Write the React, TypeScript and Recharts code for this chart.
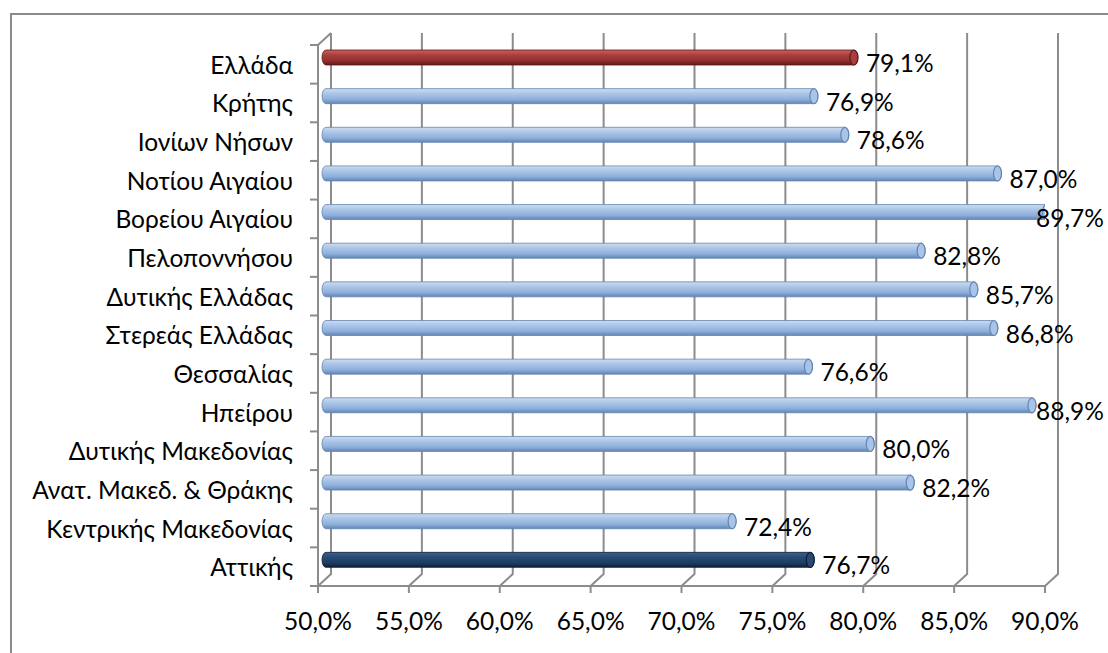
import { BarChart, Bar, XAxis, YAxis, CartesianGrid, LabelList } from "recharts";

const regions = [
  "Ελλάδα",
  "Κρήτης",
  "Ιονίων Νήσων",
  "Νοτίου Αιγαίου",
  "Βορείου Αιγαίου",
  "Πελοποννήσου",
  "Δυτικής Ελλάδας",
  "Στερεάς Ελλάδας",
  "Θεσσαλίας",
  "Ηπείρου",
  "Δυτικής Μακεδονίας",
  "Ανατ. Μακεδ. & Θράκης",
  "Κεντρικής Μακεδονίας",
  "Αττικής",
];
const shares = [79.1, 76.9, 78.6, 87.0, 89.7, 82.8, 85.7, 86.8, 76.6, 88.9, 80.0, 82.2, 72.4, 76.7];
const xTicks = [50, 55, 60, 65, 70, 75, 80, 85, 90];

const data = regions.map((name, i) => ({ name, value: shares[i] }));

const W = 1108;
const H = 653;
const TOP = 45;
const BOTTOM = 586;
const LEFT = 318;
const DEPTH_X = 13;
const DEPTH_Y = 12;
const GRID = "#8c8c8c";
const FONT = "Lato, 'Noto Sans', sans-serif";
const FS = 24.5;
const band = (BOTTOM - TOP) / regions.length;

const palettes: Record<string, string[]> = {
  blue: ["#cddcf0", "#a9c4e6", "#8fb0dc", "#6385b2"],
  red: ["#c8625e", "#a83f3c", "#93302e", "#5e1a19"],
  navy: ["#3c5f8a", "#264a74", "#1e3d62", "#0f2036"],
};
const paletteFor = (name: string) =>
  name === "Ελλάδα" ? "red" : name === "Αττικής" ? "navy" : "blue";

const fmt = (v: number) => v.toFixed(1).replace(".", ",") + "%";

function Cylinder(props: any) {
  const { x, y, width, height, payload } = props;
  const key = paletteFor(payload.name);
  const c = palettes[key];
  const x0 = x + 4;
  const x1 = x + width + 11;
  const top = y - DEPTH_Y / 2 - 1;
  const ry = height / 2;
  return (
    <g>
      <rect
        x={x0}
        y={top}
        width={x1 - x0}
        height={height}
        rx={4}
        ry={ry}
        fill={`url(#grad-${key})`}
        stroke={c[3]}
        strokeWidth={0.8}
      />
      <ellipse cx={x1 - 4} cy={top + ry} rx={4} ry={ry} fill={c[1]} stroke={c[3]} strokeWidth={1.2} />
    </g>
  );
}

function CategoryTick(props: any) {
  const { y, payload, index } = props;
  return (
    <g>
      <line x1={LEFT - 8} x2={LEFT} y1={y - band / 2} y2={y - band / 2} stroke={GRID} strokeWidth={2} />
      {index === regions.length - 1 && (
        <line x1={LEFT - 8} x2={LEFT} y1={y + band / 2} y2={y + band / 2} stroke={GRID} strokeWidth={2} />
      )}
      <text x={LEFT - 25} y={y} textAnchor="end" dominantBaseline="central" fontSize={FS} fill="#000" fontFamily={FONT}>
        {payload.value}
      </text>
    </g>
  );
}

function ValueTick(props: any) {
  const { x, payload } = props;
  return (
    <text x={x} y={630} textAnchor="middle" fontSize={FS} fill="#000" fontFamily={FONT}>
      {fmt(payload.value)}
    </text>
  );
}

function ValueLabel(props: any) {
  const { x, y, width, height, value } = props;
  const end = x + width + 11;
  const tx = Math.min(end + 8, W - 72);
  return (
    <text x={tx} y={y + height / 2 - 2} dominantBaseline="central" fontSize={FS} fill="#000" fontFamily={FONT}>
      {fmt(value)}
    </text>
  );
}

function GridLine(props: any) {
  const { x1, y1, y2, index } = props;
  const bx = x1 + DEPTH_X;
  return (
    <g key={`g-${index}`}>
      <polyline
        points={`${x1},${y2} ${bx},${y2 - DEPTH_Y} ${bx},${y1 - DEPTH_Y}`}
        fill="none"
        stroke={GRID}
        strokeWidth={2}
      />
      {index === 0 && <line x1={x1} y1={y1} x2={bx} y2={y1 - DEPTH_Y} stroke={GRID} strokeWidth={2} />}
    </g>
  );
}

export default function App() {
  return (
    <div style={{ position: "absolute", left: 0, top: 0, width: W, height: H, background: "#fff" }}>
      <div
        style={{
          position: "absolute",
          left: 10,
          top: 13,
          width: W - 10,
          height: H - 13,
          borderTop: "2px solid #8a8a8a",
          borderLeft: "2px solid #8a8a8a",
          boxSizing: "border-box",
        }}
      />
      <div style={{ position: "absolute", left: 0, top: 0 }}>
        <BarChart
          width={W}
          height={H}
          data={data}
          layout="vertical"
          margin={{ top: TOP, right: W - 1045, bottom: H - BOTTOM - 40, left: 10 }}
        >
          <defs>
            {Object.entries(palettes).map(([k, c]) => (
              <linearGradient key={k} id={`grad-${k}`} x1="0" y1="0" x2="0" y2="1">
                <stop offset="0%" stopColor={c[0]} />
                <stop offset="35%" stopColor={c[1]} />
                <stop offset="70%" stopColor={c[2]} />
                <stop offset="100%" stopColor={c[3]} />
              </linearGradient>
            ))}
          </defs>
          <CartesianGrid horizontal={false} vertical={GridLine} />
          <XAxis
            type="number"
            domain={[50, 90]}
            ticks={xTicks}
            allowDataOverflow
            height={40}
            axisLine={{ stroke: GRID, strokeWidth: 2 }}
            tickLine={{ stroke: GRID, strokeWidth: 2 }}
            tickSize={7}
            tick={<ValueTick />}
            interval={0}
          />
          <YAxis
            type="category"
            dataKey="name"
            width={308}
            axisLine={{ stroke: GRID, strokeWidth: 2 }}
            tickLine={false}
            tick={<CategoryTick />}
            interval={0}
          />
          <Bar dataKey="value" barSize={15} shape={<Cylinder />} isAnimationActive={false}>
            <LabelList dataKey="value" content={<ValueLabel />} />
          </Bar>
        </BarChart>
      </div>
    </div>
  );
}
